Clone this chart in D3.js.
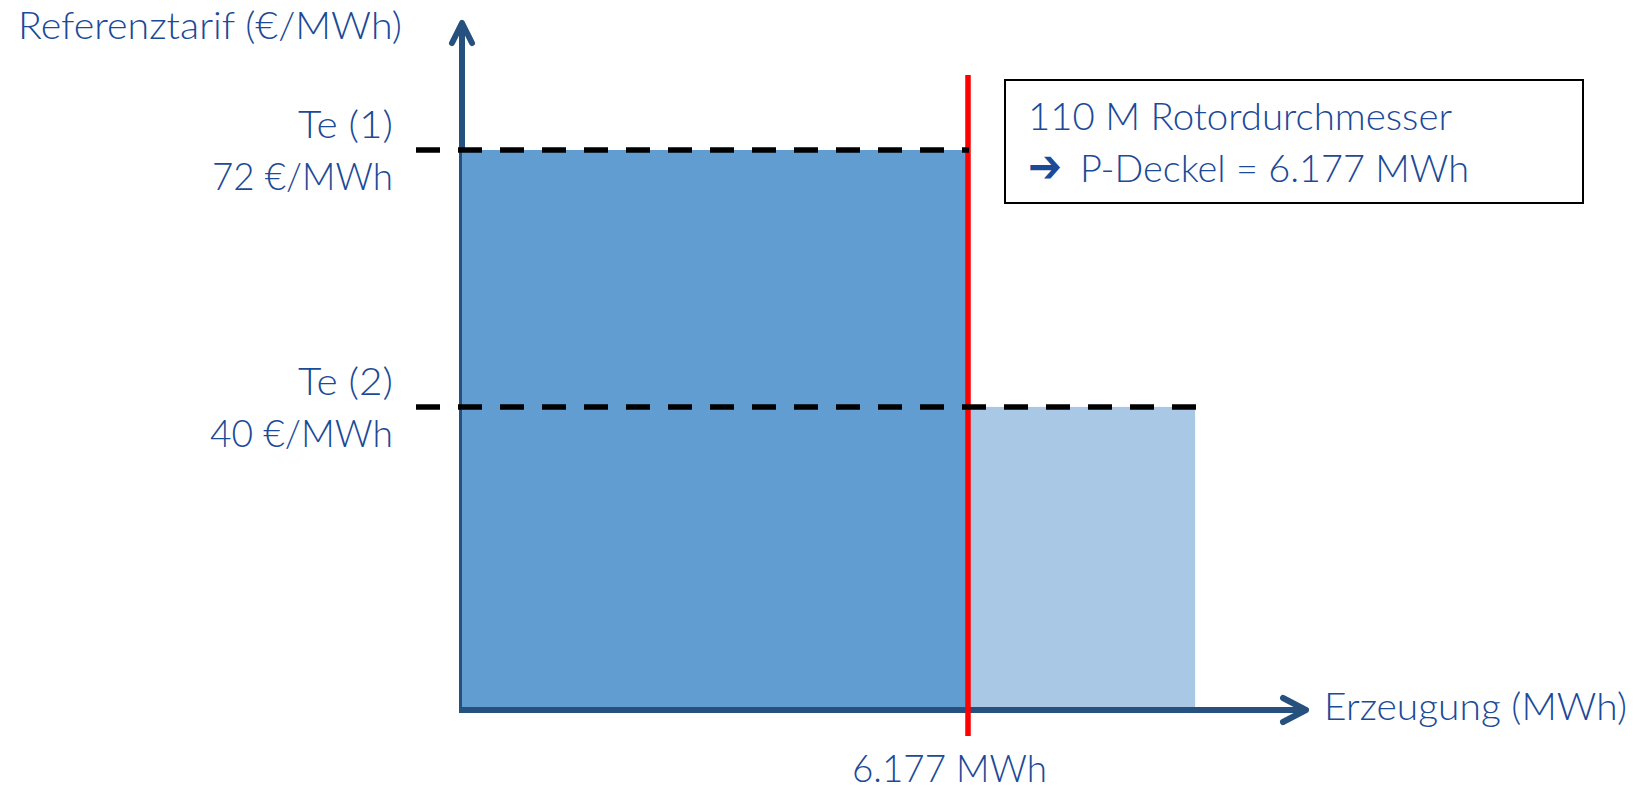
<!DOCTYPE html>
<html>
<head>
<meta charset="utf-8">
<script src="https://cdn.jsdelivr.net/npm/d3@7/dist/d3.min.js"></script>
<style>
  html, body { margin: 0; padding: 0; background: #fff; }
  svg { display: block; }
  text { font-family: Lato, "Open Sans", "Noto Sans", sans-serif; font-weight: 300; fill: #1b4a98; }
</style>
</head>
<body>
<script>
// ---- data ----
const tariffNames = ["Te (1)", "Te (2)"];
const tariffValues = [72, 40];
const tariffLabels = ["72 €/MWh", "40 €/MWh"];
const segStart = [0, 6177];
const segEnd = [6177, 8950];
const capValue = 6177;
const capLabel = "6.177 MWh";
const yTitle = "Referenztarif (€/MWh)";
const xTitle = "Erzeugung (MWh)";
const boxLine1 = "110 M Rotordurchmesser";
const boxArrow = "➔";
const boxLine2 = "P-Deckel = 6.177 MWh";

// ---- layout ----
const W = 1648, H = 791;
const axisColor = "#26507d";
const barColors = ["#629dd1", "#a8c8e6"];
const axisY = 710;

const svg = d3.select("body").append("svg").attr("width", W).attr("height", H);

const x = d3.scaleLinear().domain([0, capValue]).range([462, 968]);
const y = d3.scaleLinear().domain([0, 72]).range([728, 150]);

// y axis (drawn below bars)
svg.append("line")
  .attr("x1", x(0)).attr("x2", x(0))
  .attr("y1", axisY + 3).attr("y2", 23)
  .attr("stroke", axisColor).attr("stroke-width", 6);
svg.append("path")
  .attr("d", `M${x(0) - 10},43 L${x(0)},23 L${x(0) + 10},43`)
  .attr("fill", "none").attr("stroke", axisColor).attr("stroke-width", 6)
  .attr("stroke-linecap", "round").attr("stroke-linejoin", "round");

// bars
svg.selectAll("rect.bar")
  .data(tariffValues)
  .enter().append("rect")
  .attr("class", "bar")
  .attr("x", (d, i) => x(segStart[i]))
  .attr("width", (d, i) => x(segEnd[i]) - x(segStart[i]))
  .attr("y", d => y(d))
  .attr("height", d => axisY - y(d))
  .attr("fill", (d, i) => barColors[i]);

// x axis
svg.append("line")
  .attr("x1", x(0) - 3).attr("x2", 1306)
  .attr("y1", axisY).attr("y2", axisY)
  .attr("stroke", axisColor).attr("stroke-width", 6);
svg.append("path")
  .attr("d", `M1283,${axisY - 12} L1306,${axisY} L1283,${axisY + 12}`)
  .attr("fill", "none").attr("stroke", axisColor).attr("stroke-width", 6)
  .attr("stroke-linecap", "round").attr("stroke-linejoin", "round");

// red cap line
svg.append("line")
  .attr("x1", x(capValue)).attr("x2", x(capValue))
  .attr("y1", 75).attr("y2", 736)
  .attr("stroke", "#ff0000").attr("stroke-width", 5.5);

// dashed tariff lines
svg.selectAll("line.tariff")
  .data(tariffValues)
  .enter().append("line")
  .attr("class", "tariff")
  .attr("x1", 416)
  .attr("x2", (d, i) => x(segEnd[i]) + 1)
  .attr("y1", d => y(d)).attr("y2", d => y(d))
  .attr("stroke", "#000").attr("stroke-width", 5.5)
  .attr("stroke-dasharray", "24,18");

// tariff labels
const labW1 = [95, 95], labW2 = [181, 183];
tariffValues.forEach((v, i) => {
  svg.append("text")
    .attr("x", 393).attr("y", y(v) - 12)
    .attr("text-anchor", "end").attr("font-size", 37)
    .attr("textLength", labW1[i]).attr("lengthAdjust", "spacingAndGlyphs")
    .text(tariffNames[i]);
  svg.append("text")
    .attr("x", 393).attr("y", y(v) + 40)
    .attr("text-anchor", "end").attr("font-size", 37)
    .attr("textLength", labW2[i]).attr("lengthAdjust", "spacingAndGlyphs")
    .text(tariffLabels[i]);
});

// axis titles
svg.append("text")
  .attr("x", 18).attr("y", 39).attr("font-size", 37)
  .attr("textLength", 384).attr("lengthAdjust", "spacingAndGlyphs")
  .text(yTitle);
svg.append("text")
  .attr("x", 1324).attr("y", 720).attr("font-size", 37)
  .attr("textLength", 303).attr("lengthAdjust", "spacingAndGlyphs")
  .text(xTitle);

// cap label
svg.append("text")
  .attr("x", 852).attr("y", 782).attr("font-size", 37)
  .attr("textLength", 195).attr("lengthAdjust", "spacingAndGlyphs")
  .text(capLabel);

// info box
svg.append("rect")
  .attr("x", 1005).attr("y", 80).attr("width", 578).attr("height", 123)
  .attr("fill", "#fff").attr("stroke", "#000").attr("stroke-width", 2);
svg.append("text")
  .attr("x", 1028).attr("y", 130).attr("font-size", 37)
  .attr("textLength", 424).attr("lengthAdjust", "spacingAndGlyphs")
  .text(boxLine1);
svg.append("text")
  .attr("x", 1028).attr("y", 182).attr("font-size", 46)
  .attr("textLength", 34).attr("lengthAdjust", "spacingAndGlyphs")
  .style("font-family", "'DejaVu Sans', sans-serif").style("font-weight", 400)
  .text(boxArrow);
svg.append("text")
  .attr("x", 1080).attr("y", 182).attr("font-size", 37)
  .attr("textLength", 389).attr("lengthAdjust", "spacingAndGlyphs")
  .text(boxLine2);
</script>
</body>
</html>
